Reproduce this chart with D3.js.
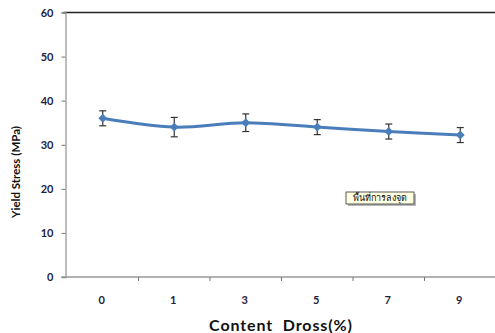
<!DOCTYPE html>
<html>
<head>
<meta charset="utf-8">
<script src="https://cdn.jsdelivr.net/npm/d3@7"></script>
<style>
  body { margin: 0; background: #fff; }
  text { font-family: Lato, "Open Sans", sans-serif; }
</style>
</head>
<body>
<div id="chart"></div>
<script>
// data
const categories = ["0", "1", "3", "5", "7", "9"];
const yieldStress = [36, 34, 35, 34, 33, 32.2];
const errors = [1.7, 2.2, 2.0, 1.7, 1.7, 1.7];
const yTicks = [0, 10, 20, 30, 40, 50, 60];

const W = 495, H = 333;
const margin = { top: 12.5, right: -1, bottom: 56, left: 65.5 };

const svg = d3.select("#chart").append("svg")
  .attr("width", W).attr("height", H);

const x = d3.scaleBand().domain(categories)
  .range([margin.left + 1.5, W - margin.right]);
const y = d3.scaleLinear().domain([0, 60])
  .range([H - margin.bottom, margin.top]);

const navy = "#1c2340",
  lineBlue = "#4a7ebb";

// top frame line
svg.append("line")
  .attr("x1", margin.left - 2).attr("x2", W)
  .attr("y1", y(60)).attr("y2", y(60))
  .attr("stroke", "#222").attr("stroke-width", 1.5);

// y axis
const yAxis = svg.append("g")
  .attr("transform", "translate(" + margin.left + ",0)")
  .call(d3.axisLeft(y).tickValues(yTicks).tickSize(4).tickPadding(8));
yAxis.select(".domain").attr("stroke", "#999").attr("stroke-width", 1.3);
yAxis.selectAll(".tick line").attr("stroke", "#777");
yAxis.selectAll(".tick text")
  .attr("fill", navy).style("font-size", "11px").style("font-weight", "bold");

// x axis with ticks between categories
const xAxis = svg.append("g")
  .attr("transform", "translate(0," + y(0) + ")");
xAxis.append("line")
  .attr("x1", margin.left - 4).attr("x2", W)
  .attr("stroke", "#999").attr("stroke-width", 1.3);
xAxis.selectAll(".sep")
  .data(categories.slice(1))
  .join("line")
  .attr("x1", d => x(d)).attr("x2", d => x(d))
  .attr("y1", 0).attr("y2", 4)
  .attr("stroke", "#777");
xAxis.selectAll(".lbl")
  .data(categories)
  .join("text")
  .attr("x", d => x(d) + x.bandwidth() / 2 - 1)
  .attr("y", 27)
  .attr("text-anchor", "middle")
  .attr("fill", navy)
  .style("font-size", "11px").style("font-weight", "bold")
  .text(d => d);

// axis titles
svg.append("text")
  .attr("transform", "translate(20,172) rotate(-90)")
  .attr("text-anchor", "middle")
  .attr("fill", "#111")
  .style("font-size", "11.5px").style("font-weight", "bold")
  .text("Yield Stress (MPa)");

svg.append("text")
  .attr("x", 281).attr("y", 331)
  .attr("text-anchor", "middle")
  .attr("fill", "#111")
  .style("font-size", "16px").style("font-weight", "bold")
  .style("letter-spacing", "0.9px")
  .style("white-space", "pre")
  .text("Content  Dross(%)");

const cx = d => x(d) + x.bandwidth() / 2;
const pts = categories.map((c, i) => ({ c: c, v: yieldStress[i], e: errors[i] }));

// line
svg.append("path")
  .datum(pts)
  .attr("fill", "none")
  .attr("stroke", lineBlue)
  .attr("stroke-width", 3)
  .attr("d", d3.line().curve(d3.curveCatmullRom).x(d => cx(d.c)).y(d => y(d.v)));

// error bars
const eb = svg.append("g").attr("stroke", "#333").attr("stroke-width", 1.2);
pts.forEach(d => {
  eb.append("line")
    .attr("x1", cx(d.c)).attr("x2", cx(d.c))
    .attr("y1", y(d.v + d.e)).attr("y2", y(d.v - d.e));
  [d.v + d.e, d.v - d.e].forEach(v => {
    eb.append("line")
      .attr("x1", cx(d.c) - 3.5).attr("x2", cx(d.c) + 3.5)
      .attr("y1", y(v)).attr("y2", y(v));
  });
});

// diamond markers
svg.append("g").selectAll("path")
  .data(pts)
  .join("path")
  .attr("transform", d => "translate(" + cx(d.c) + "," + y(d.v) + ")")
  .attr("d", d3.symbol(d3.symbolDiamond2, 50))
  .attr("fill", lineBlue);

// tooltip-like label box
const note = svg.append("g").attr("transform", "translate(346,192)");
note.append("rect")
  .attr("x", 2).attr("y", 2).attr("width", 68).attr("height", 12)
  .attr("fill", "#888").attr("opacity", 0.6);
note.append("rect")
  .attr("width", 68).attr("height", 12)
  .attr("fill", "#ffffe1").attr("stroke", "#333").attr("stroke-width", 0.8);
note.append("text")
  .attr("x", 34).attr("y", 9)
  .attr("text-anchor", "middle")
  .attr("fill", "#111")
  .style("font-family", "'Noto Sans', 'DejaVu Sans', sans-serif")
  .style("font-size", "9px")
  .text("พื้นที่การลงจุด");
</script>
</body>
</html>
